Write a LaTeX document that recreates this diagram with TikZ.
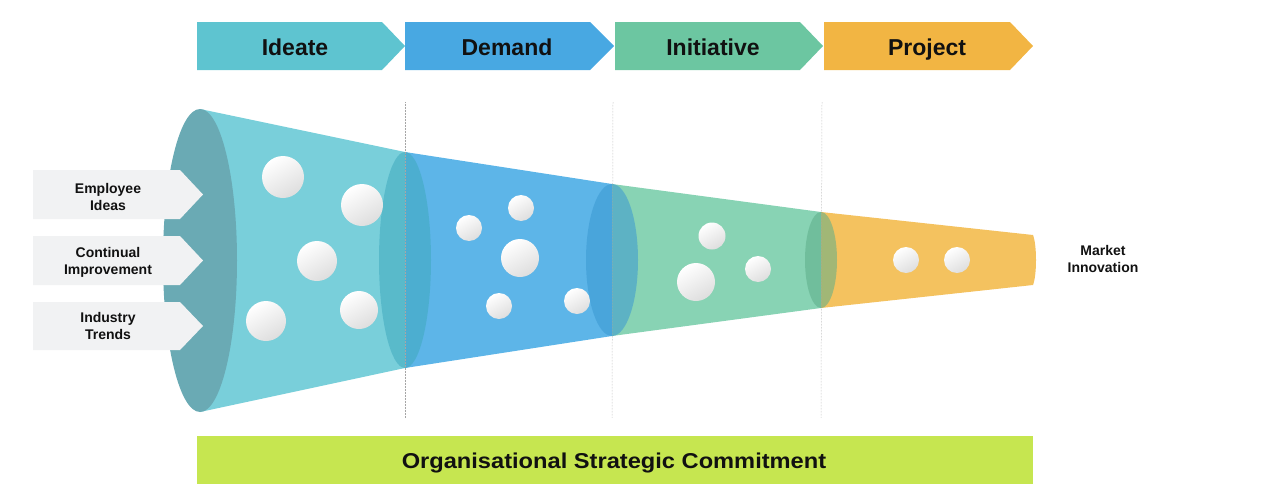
\documentclass[tikz,border=0pt]{standalone}
\usepackage{fontspec}
\setmainfont{Liberation Sans}
\definecolor{cIde}{HTML}{5EC4D0}
\definecolor{cDem}{HTML}{48A8E2}
\definecolor{cIni}{HTML}{6CC6A1}
\definecolor{cPro}{HTML}{F2B543}
\definecolor{fA}{HTML}{79CFDA}
\definecolor{fAdark}{HTML}{6AAAB4}
\definecolor{fB}{HTML}{5DB5E8}
\definecolor{fC}{HTML}{88D3B4}
\definecolor{fD}{HTML}{F4C25F}
\definecolor{bandA}{HTML}{3FA9BE}
\definecolor{bandB}{HTML}{3A98D2}
\definecolor{bandC}{HTML}{5DAE8A}
\definecolor{cLime}{HTML}{C6E650}
\definecolor{cIn}{HTML}{F1F2F3}
\definecolor{txt}{HTML}{111111}
\newfontfamily\widefont[FakeStretch=1.1]{Liberation Sans}
\begin{document}
\begin{tikzpicture}[x=1pt,y=-1pt,
  stagelbl/.style={font=\bfseries\fontsize{23}{27}\selectfont, text=txt, anchor=base, inner sep=0},
  sidelbl/.style={font=\bfseries\fontsize{14}{17}\selectfont, text=txt, align=center, inner sep=0},
  bubble/.style={top color=white, bottom color=black!13, shading angle=30},
  band/.style={opacity=0.55},
  sep/.style={draw=black!35, line width=0.5pt, densely dotted}]
\useasboundingbox (0,0) rectangle (1270,498);

% stage chevrons
\fill[cIde] (197,22) -- (382,22) -- (405,46) -- (382,70) -- (197,70) -- cycle;
\fill[cDem] (405,22) -- (590,22) -- (614,46) -- (590,70) -- (405,70) -- cycle;
\fill[cIni] (615,22) -- (800,22) -- (823,46) -- (800,70) -- (615,70) -- cycle;
\fill[cPro] (824,22) -- (1010,22) -- (1033,46) -- (1010,70) -- (824,70) -- cycle;
\node[stagelbl] (ideate) at (295,55) {Ideate};
\node[stagelbl] (demand) at (507,55) {Demand};
\node[stagelbl] (initiative) at (713,55) {Initiative};
\node[stagelbl] (project) at (927,55) {Project};

% funnel sections
\fill[fA] (200,109) -- (405,152) -- (405,368) -- (200,412) -- cycle;
\fill[fB] (405,152) -- (612,184) -- (612,336) -- (405,368) -- cycle;
\fill[fC] (612,184) -- (821,212) -- (821,308) -- (612,336) -- cycle;
\fill[fD] (821,212) -- (1033,235) .. controls (1037,245) and (1037,275) .. (1033,285) -- (821,308) -- cycle;
\fill[fAdark] (200,260.5) ellipse [x radius=37pt, y radius=151.5pt];
\fill[bandA, band] (405,260) ellipse [x radius=26pt, y radius=108pt];
\fill[bandB, band] (612,260) ellipse [x radius=26pt, y radius=76pt];
\fill[bandC, band] (821,260) ellipse [x radius=16pt, y radius=48pt];

% bubbles
\shade[bubble] (283,177) circle [radius=21pt];
\shade[bubble] (362,205) circle [radius=21pt];
\shade[bubble] (317,261) circle [radius=20pt];
\shade[bubble] (266,321) circle [radius=20pt];
\shade[bubble] (359,310) circle [radius=19pt];
\shade[bubble] (469,228) circle [radius=13pt];
\shade[bubble] (521,208) circle [radius=13pt];
\shade[bubble] (520,258) circle [radius=19pt];
\shade[bubble] (499,306) circle [radius=13pt];
\shade[bubble] (577,301) circle [radius=13pt];
\shade[bubble] (712,236) circle [radius=13.5pt];
\shade[bubble] (696,282) circle [radius=19pt];
\shade[bubble] (758,269) circle [radius=13pt];
\shade[bubble] (906,260) circle [radius=13pt];
\shade[bubble] (957,260) circle [radius=13pt];

% stage separators
\draw[sep] (405,102) -- (405,418);
\draw[sep] (613,102) -- (612,418);
\draw[sep] (822,102) -- (821,418);

% input arrows
\fill[cIn] (33,170) -- (180,170) -- (203,194.5) -- (180,219) -- (33,219) -- cycle;
\fill[cIn] (33,236) -- (180,236) -- (203,260.5) -- (180,285) -- (33,285) -- cycle;
\fill[cIn] (33,302) -- (180,302) -- (203,326) -- (180,350) -- (33,350) -- cycle;
\node[sidelbl] (emp) at (108,197) {Employee\\Ideas};
\node[sidelbl] (cont) at (108,262) {Continual\\Improvement};
\node[sidelbl] (ind) at (108,326) {Industry\\Trends};

% output
\node[sidelbl] (market) at (1103,259) {Market\\Innovation};

% bottom bar
\fill[cLime] (197,436) rectangle (1033,484);
\node[stagelbl, font=\widefont\bfseries\fontsize{21.5}{25}\selectfont] (commit) at (614,468) {Organisational Strategic Commitment};
\end{tikzpicture}
\end{document}
